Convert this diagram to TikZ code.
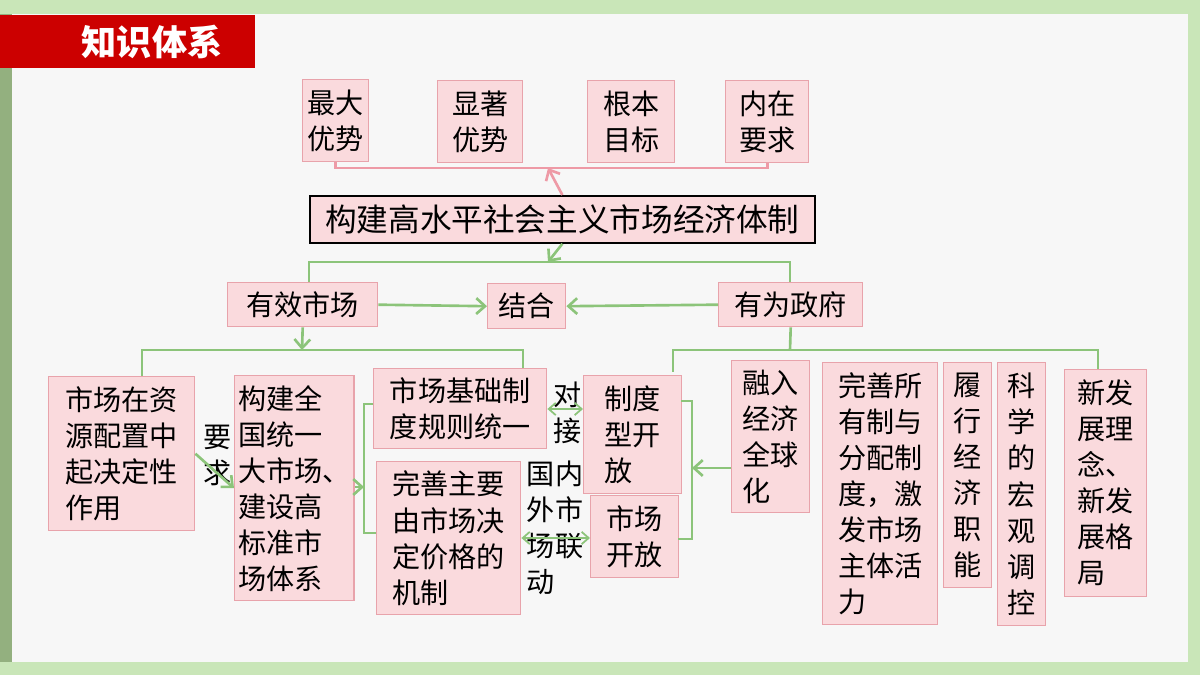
\documentclass[tikz,border=0pt]{standalone}
\usepackage{fontspec}
\newfontfamily\cjk{Noto Sans CJK SC}
\usetikzlibrary{arrows.meta}
\definecolor{pinkfill}{HTML}{FADADD}
\definecolor{pinkdraw}{HTML}{E8A3AB}
\definecolor{gline}{HTML}{8CC47A}
\definecolor{pline}{HTML}{EE9AA6}
\definecolor{bgout}{RGB}{201,230,184}
\definecolor{bgleft}{RGB}{147,176,127}
\definecolor{panel}{RGB}{247,247,247}
\definecolor{banner}{RGB}{204,0,0}
\tikzset{
 box/.style={draw=pinkdraw,fill=pinkfill,line width=0.8pt,inner sep=2pt,align=left,font=\cjk\fontsize{16}{20.5}\selectfont,anchor=north west},
 gl/.style={draw=gline,line width=1.5pt},
 garr/.style={gl,-{Straight Barb[length=5pt,width=9pt]}},
 gdbl/.style={gl,line width=1pt,{Straight Barb[length=4pt,width=7pt]}-{Straight Barb[length=4pt,width=7pt]}},
 pl/.style={draw=pline,line width=1.5pt},
 lbl/.style={font=\cjk\fontsize{16}{20.5}\selectfont,align=left,inner sep=0pt}
}
\newcommand\bx[6]{\node[box,minimum width={(#4-#2)*0.02cm},minimum height={(#5-#3)*0.02cm}] (#1) at (#2,#3) {#6};}
\begin{document}
\begin{tikzpicture}[x=0.02cm,y=-0.02cm]
\fill[bgout] (0,0) rectangle (1200,675);
\fill[bgleft] (0,14) rectangle (12,662);
\fill[panel] (12,14) rectangle (1188,662);
\fill[banner] (0,15) rectangle (255,68);
\node[text=white,font=\cjk\bfseries\fontsize{20}{24}\selectfont] (title) at (152,42) {知识体系};
\bx{t1}{302}{79}{368}{161}{最大\\优势}
\bx{t2}{437}{80}{522}{162}{显著\\优势}
\bx{t3}{587}{80}{674}{162}{根本\\目标}
\bx{t4}{725}{80}{808}{162}{内在\\要求}
\node[box,draw=black,line width=1pt,font=\cjk\fontsize{18}{22}\selectfont,minimum width={505*0.02cm},minimum height={47*0.02cm}] (main) at (309,195) {构建高水平社会主义市场经济体制};
\coordinate (pj) at (548,168);
\draw[pl] (t1.south) |- (pj) -| (t4.south);
\draw[pl,-{Straight Barb[length=5pt,width=9pt]}] (main.north) -- (pj);
\bx{m1}{227}{282}{377}{326}{有效市场}
\bx{m2}{487}{283}{565}{328}{结合}
\bx{m3}{718}{282}{862}{326}{有为政府}
\coordinate (gj) at (548,262);
\draw[garr] (main.south) -- (gj);
\draw[gl] (309,282) |- (gj) -| (790,282);
\draw[garr] (m1.east) -- (m2.west);
\draw[garr] (m3.west) -- (m2.east);
\coordinate (lj) at (302,350);
\draw[garr] (m1.south) -- (lj);
\bx{a1}{48}{376}{194}{530}{市场在资\\源配置中\\起决定性\\作用}
\bx{a2}{234}{375}{343}{600}{构建全\\国统一\\大市场、\\建设高\\标准市\\场体系}
\bx{a3}{373}{368}{546}{448}{市场基础制\\度规则统一}
\bx{a4}{376}{461}{520}{614}{完善主要\\由市场决\\定价格的\\机制}
\draw[gl] (142,376) |- (lj) -| (523,368);
\node[lbl] (yq) at (218,455) {要\\求};
\draw[garr] (a1.east) -- (a2.west);
\coordinate (lb) at (364,487);
\draw[garr] (a2.east |- lb) -- (lb);
\draw[gl] (373,404) -- (364,404) -- (364,533) -- (376,533);
\bx{b1}{583}{375}{681}{493}{制度\\型开\\放}
\bx{b2}{590}{495}{678}{577}{市场\\开放}
\node[lbl] (dj) at (568,413) {对\\接};
\draw[gdbl] (a3.east |- 0,409) -- (b1.west |- 0,409);
\node[lbl] (gn) at (555,528) {国内\\外市\\场联\\动};
\draw[gdbl] (a4.east |- 0,538) -- (b2.west |- 0,538);
\bx{c1}{731}{360}{809}{512}{融入\\经济\\全球\\化}
\bx{c2}{822}{362}{937}{624}{完善所\\有制与\\分配制\\度，激\\发市场\\主体活\\力}
\bx{c3}{943}{362}{991}{587}{履\\行\\经\\济\\职\\能}
\bx{c4}{997}{362}{1045}{625}{科\\学\\的\\宏\\观\\调\\控}
\bx{c5}{1064}{369}{1146}{596}{新发\\展理\\念、\\新发\\展格\\局}
\coordinate (rb) at (692,468);
\draw[gl] (681,401) -- (692,401) -- (692,539) -- (678,539);
\draw[garr] (c1.west |- rb) -- (rb);
\coordinate (rj) at (790,350);
\draw[gl] (m3.south) -- (rj);
\draw[gl] (673,372) |- (rj) -| (1098,369);
\end{tikzpicture}
\end{document}
